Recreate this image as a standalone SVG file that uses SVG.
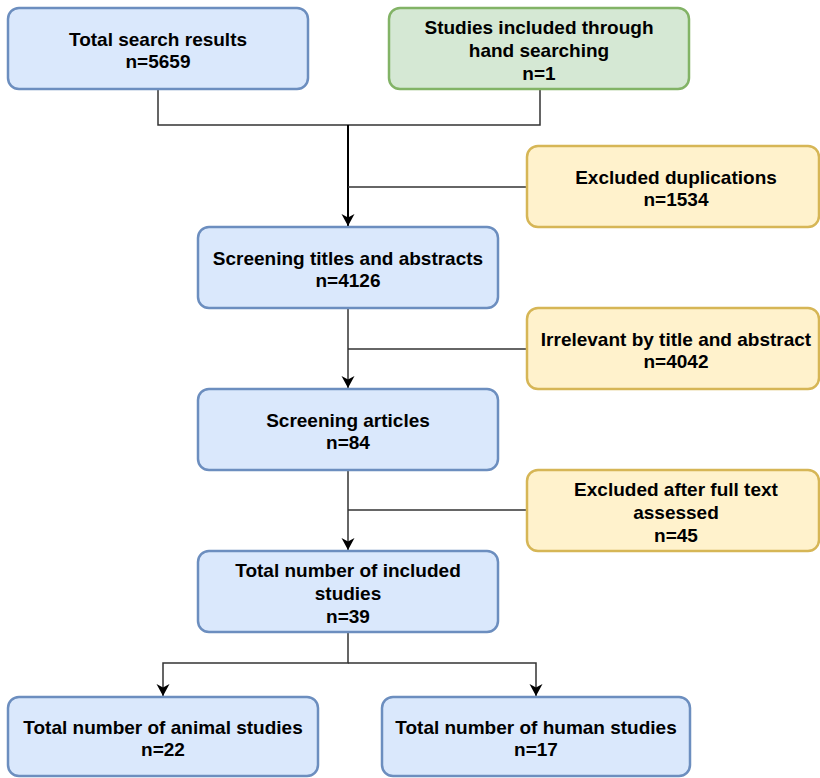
<svg xmlns="http://www.w3.org/2000/svg" width="820" height="778" viewBox="0 0 820 778">
<style>
.b{fill:#dae8fc;stroke:#6c8ebf;stroke-width:2.5}
.g{fill:#d5e8d4;stroke:#82b366;stroke-width:2.5}
.y{fill:#fff2cc;stroke:#d6b656;stroke-width:2.5}
text{font-family:"Liberation Sans",Arial,sans-serif;font-weight:bold;font-size:19px;fill:#000;text-anchor:middle}
.c{fill:none;stroke:#333;stroke-width:1.5}
.m{fill:none;stroke:#000;stroke-width:2}
</style>
<defs>
<marker id="a" markerWidth="14" markerHeight="14" refX="12" refY="7" orient="auto" markerUnits="userSpaceOnUse">
<path d="M0,0.5 L12,7 L0,13.5 L3.5,7 Z" fill="#000"/>
</marker>
</defs>
<g id="connectors">
<path class="c" d="M158,89 V125 H540 V89"/>
<path class="m" d="M348,125 V226" marker-end="url(#a)"/>
<path class="c" d="M527,187 H348"/>
<path class="c" d="M348,308 V388" marker-end="url(#a)"/>
<path class="c" d="M527,349 H348"/>
<path class="c" d="M348,470 V550" marker-end="url(#a)"/>
<path class="c" d="M527,510 H348"/>
<path class="c" d="M348,632 V663 H163 V696" marker-end="url(#a)"/>
<path class="c" d="M348,663 H536 V696" marker-end="url(#a)"/>
</g>
<g id="total-search"><rect class="b" x="8" y="8" width="300" height="81" rx="11"/><text x="158" y="46">Total search results</text><text x="158" y="68">n=5659</text></g>
<g id="hand-search"><rect class="g" x="389" y="8" width="300" height="81" rx="11"/><text x="539" y="34">Studies included through</text><text x="539" y="57">hand searching</text><text x="539" y="80">n=1</text></g>
<g id="dup"><rect class="y" x="527" y="146" width="292" height="81" rx="11"/><text x="676" y="184">Excluded duplications</text><text x="676" y="206">n=1534</text></g>
<g id="screen-titles"><rect class="b" x="198" y="227" width="300" height="81" rx="11"/><text x="348" y="265">Screening titles and abstracts</text><text x="348" y="287">n=4126</text></g>
<g id="irrelevant"><rect class="y" x="527" y="308" width="292" height="81" rx="11"/><text x="676" y="346">Irrelevant by title and abstract</text><text x="676" y="368">n=4042</text></g>
<g id="screen-articles"><rect class="b" x="198" y="389" width="300" height="81" rx="11"/><text x="348" y="427">Screening articles</text><text x="348" y="449">n=84</text></g>
<g id="excluded-full"><rect class="y" x="527" y="470" width="292" height="81" rx="11"/><text x="676" y="496">Excluded after full text</text><text x="676" y="519">assessed</text><text x="676" y="542">n=45</text></g>
<g id="included"><rect class="b" x="198" y="551" width="300" height="81" rx="11"/><text x="348" y="577">Total number of included</text><text x="348" y="600">studies</text><text x="348" y="623">n=39</text></g>
<g id="animal"><rect class="b" x="8" y="697" width="310" height="79" rx="11"/><text x="163" y="734">Total number of animal studies</text><text x="163" y="756">n=22</text></g>
<g id="human"><rect class="b" x="382" y="697" width="308" height="79" rx="11"/><text x="536" y="734">Total number of human studies</text><text x="536" y="756">n=17</text></g>
</svg>
